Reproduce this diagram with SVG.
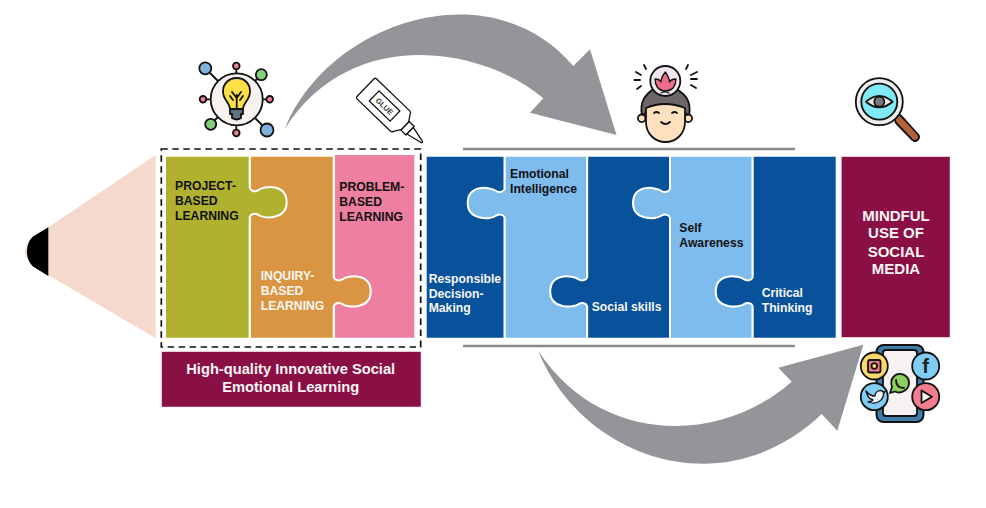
<svg xmlns="http://www.w3.org/2000/svg" width="986" height="508" viewBox="0 0 986 508">
<style>
text{font-family:"Liberation Sans",Arial,sans-serif;font-weight:700}
.t{font-size:12.200px}
.k{fill:#111}
.w{fill:#f8f6f4}
.pc{stroke:#fff;stroke-width:2}
.dk{fill:#07529b}
.lt{fill:#7fbcee}
.ln{stroke:#8c8a8a;stroke-width:2.400;fill:none}
.ic{stroke:#111;stroke-width:1.800;stroke-linecap:round;stroke-linejoin:round}
.thin{stroke-width:1.300}
.no{fill:none}
.mar{fill:#8a0f45;stroke:#f3e4ea;stroke-width:.5}
</style>
<rect width="986" height="508" fill="#fff"/>
<g id="connectors">
<path fill="#939598" d="M285 128.500C328 22 490 -32 573.300 66L590 49.300L616.500 135L530 112.700L543.300 98.300C480 45 350 26 285 128.500Z"/>
<path fill="#939598" d="M538.300 351C580 455 720 510 821.700 414L837.300 430.700L863.300 344.700L778.300 367.700L791.700 381.700C720 445 600 445 538.300 351Z"/>
<path class="ln" d="M463 149H795M463 346H795"/>
</g>
<g id="pencil-tip">
<path fill="#f4d9cc" d="M155.700 155V338.300L43 272Q25 262 25 251.700Q25 241 43 231Z"/>
<path fill="#000" d="M48.300 227.300V276L33 266.500Q27 261 27 251.500Q27 242 33 236.500Z"/>
</g>
<g id="inquiry-frame">
<rect x="161.300" y="149" width="259.400" height="198" fill="none" stroke="#111" stroke-width="1.700" stroke-dasharray="6.500 4.500"/>
</g>
<g id="problem-based">
<path class="pc" fill="#ee7fa0" d="M333.700 154H415.300V338.700H333.700Z"/>
<text class="t k"><tspan x="339.300" y="191">PROBLEM-</tspan><tspan x="339.300" y="206">BASED</tspan><tspan x="339.300" y="221">LEARNING</tspan></text>
</g>
<g id="inquiry-based">
<path class="pc" fill="#d99541" d="M249.700 155.700H333.700V277.200c1,3 5,4 8,2.500c7,-5 29,-7 29,12c0,17 -23,17 -29,12c-3,-1.500 -7,-.5 -8,2.500V338.700H249.700Z"/>
<text class="t w"><tspan x="260.700" y="280">INQUIRY-</tspan><tspan x="260.700" y="295">BASED</tspan><tspan x="260.700" y="309.700">LEARNING</tspan></text>
</g>
<g id="project-based">
<path class="pc" fill="#b0b22f" d="M165 155.700H249.700V188c1,3 5,4 8,2.500c7,-5 29,-7 29,12c0,17 -23,17 -29,12c-3,-1.500 -7,-.5 -8,2.500V338.700H165Z"/>
<text class="t k"><tspan x="175" y="190">PROJECT-</tspan><tspan x="175" y="205">BASED</tspan><tspan x="175" y="219.700">LEARNING</tspan></text>
</g>
<g id="hq-label">
<rect class="mar" x="161.700" y="351.700" width="259.300" height="55.300"/>
<text font-size="14.700" fill="#f8f6f4" text-anchor="middle"><tspan x="290.700" y="373.700">High-quality Innovative Social</tspan><tspan x="290.700" y="391.700">Emotional Learning</tspan></text>
</g>
<g id="responsible">
<path class="pc dk" d="M425.700 155.700H504.700V338.700H425.700Z"/>
<text class="t w"><tspan x="428.700" y="282.700">Responsible</tspan><tspan x="428.700" y="297.700">Decision-</tspan><tspan x="428.700" y="312">Making</tspan></text>
</g>
<g id="emotional">
<path class="pc lt" d="M504.700 155.700V188.800c-1,3 -5,4 -8,2.500c-7,-5 -29,-7 -29,12c0,17 23,17 29,12c3,-1.500 7,-.5 8,2.500V338.700H587.200V155.700Z"/>
<text class="t k"><tspan x="510" y="177.700">Emotional</tspan><tspan x="510" y="192.700">Intelligence</tspan></text>
</g>
<g id="social-skills">
<path class="pc dk" d="M587.200 155.700V277.200c-1,3 -5,4 -8,2.500c-7,-5 -29,-7 -29,12c0,17 23,17 29,12c3,-1.500 7,-.5 8,2.500V338.700H670V155.700Z"/>
<text class="t w" x="591.700" y="311">Social skills</text>
</g>
<g id="self-awareness">
<path class="pc lt" d="M670 155.700V188.800c-1,3 -5,4 -8,2.500c-7,-5 -29,-7 -29,12c0,17 23,17 29,12c3,-1.500 7,-.5 8,2.500V338.700H752.700V155.700Z"/>
<text class="t k"><tspan x="679.300" y="232.300">Self</tspan><tspan x="679.300" y="247">Awareness</tspan></text>
</g>
<g id="critical-thinking">
<path class="pc dk" d="M752.700 155.700V277.200c-1,3 -5,4 -8,2.500c-7,-5 -29,-7 -29,12c0,17 23,17 29,12c3,-1.500 7,-.5 8,2.500V338.700H836.700V155.700Z"/>
<text class="t w"><tspan x="761.700" y="297">Critical</tspan><tspan x="761.700" y="312">Thinking</tspan></text>
</g>
<g id="mindful">
<rect class="mar" x="841.300" y="156.700" width="108.700" height="180.600"/>
<text font-size="15" fill="#f8f6f4" text-anchor="middle"><tspan x="896" y="220.700">MINDFUL</tspan><tspan x="896" y="238.300">USE OF</tspan><tspan x="896" y="256.700">SOCIAL</tspan><tspan x="896" y="274.300">MEDIA</tspan></text>
</g>
<g id="icon-bulb" class="ic">
<path class="no" d="M236.300 69V73M236.300 126V130M206.500 99.300H210.500M262 99.300H266.300M210 73L218 81M255 81L258 78M215 120L218 117M255 118L263 126"/>
<circle cx="236.700" cy="99.300" r="26" fill="#f7f2ee"/>
<circle cx="205.300" cy="68.300" r="6" fill="#7fb1dc"/>
<circle cx="236.300" cy="66" r="3.300" fill="#ef7f90"/>
<circle cx="261.300" cy="74.700" r="5.500" fill="#84cf7c"/>
<circle cx="203" cy="99.300" r="3.300" fill="#ef7f90"/>
<circle cx="269.700" cy="99.300" r="3.300" fill="#ef7f90"/>
<circle cx="210.700" cy="124.300" r="5.500" fill="#84cf7c"/>
<circle cx="236.300" cy="133" r="3.300" fill="#ef7f90"/>
<circle cx="267" cy="130" r="6.500" fill="#7fb1dc"/>
<path fill="#fde047" d="M230 109C230 103 223 100 223 91.500C223 83.500 229 78 236.700 78C244.500 78 250 83.500 250 91.500C250 100 243 103 243 109Z"/>
<path fill="#5c7484" d="M230 109H243V114H241V118Q236.700 121 232 118V114H230Z"/>
<path class="no" d="M236.700 108V95M232 92L236.700 98L241 92M230 96L233 100M243 96L240 100"/>
</g>
<g id="icon-glue" transform="translate(383.500 105) rotate(44)" class="ic thin">
<path fill="#fff" d="M-23 -14H23Q25 -14 25.500 -12L30 -5V5L25.500 12Q25 14 23 14H-23Q-25 14 -25 12V-12Q-25 -14 -23 -14Z"/>
<path fill="#fff" d="M30 -6H37V6H30Z"/>
<path fill="#fff" d="M37 -4.500L53 -1Q55 0 53 1L37 4.500Z"/>
<rect x="-13" y="-7" width="29" height="14" fill="#fff"/>
<text x="1.500" y="3" font-size="7.500" fill="#333" stroke="none" text-anchor="middle">GLUE</text>
</g>
<g id="icon-head" class="ic">
<path class="no" d="M636 72L641 75M634.500 80H640M637 89L641 86M644 65L646 69M697 72L691 75M697 79H691M696 88L691 85M688 65L686 69"/>
<path fill="#6b6669" d="M642 116C639 100 647 94 652 90H678C684 94 692 100 689 116L684 112H647Z"/>
<circle cx="641.700" cy="118.300" r="3.800" fill="#fde0bd"/>
<circle cx="688.300" cy="118.300" r="3.800" fill="#fde0bd"/>
<path fill="#fde0bd" d="M646 108Q665 100 685 108V122C685 134 676 142 665.500 142C655 142 646 134 646 122Z"/>
<path class="no" d="M654 113Q656.500 111 659 113M672 113Q674.500 111 677 113M661 122Q665.500 126 670 122"/>
<circle cx="665.300" cy="81" r="15" fill="#efe6ef"/>
<path fill="#ee6a8a" class="thin" d="M665.300 91C658 91 655 85 655 79C658 79 660 80 661 82C661 78 663 75 665.300 72C667.500 75 669.500 78 669.500 82C670.500 80 673 79 676 79C676 85 673 91 665.300 91Z"/>
<path class="no thin" d="M661 93L669 90M669 93L661 90"/>
</g>
<g id="icon-magnifier" class="ic">
<path fill="#b5623a" d="M899 114L905 120L918.500 135Q920 138 917.500 140Q915 142 912.500 140L896 123L894 117Z"/>
<circle cx="879.300" cy="101.700" r="23.500" fill="#eee"/>
<circle cx="879.300" cy="101.700" r="18" fill="#7fe9f5"/>
<path fill="#e8e6e6" d="M866 101.700Q879.300 90 892.600 101.700Q879.300 113 866 101.700Z"/>
<circle cx="879.300" cy="101.700" r="5" fill="#77787a"/>
</g>
<g id="icon-social" class="ic">
<rect x="876.500" y="345" width="47" height="77" rx="7" fill="#3f7ea8" stroke-width="2"/>
<rect x="883" y="350" width="34" height="66" rx="3" fill="#f6f2f3"/>
<circle cx="874.300" cy="366" r="13.500" fill="#fbd86b"/>
<rect x="868" y="360" width="12.500" height="12.500" rx="2" fill="#ef7f90"/>
<circle cx="874.300" cy="366" r="2.800" fill="#fbd86b"/>
<circle cx="925.700" cy="366" r="13.500" fill="#7fcdf5"/>
<text x="925.700" y="373" font-size="20" fill="#222" stroke="none" text-anchor="middle">f</text>
<circle cx="874.300" cy="396.700" r="13.500" fill="#7fcdf5"/>
<path fill="#f6f2f3" class="thin" d="M866 391C869 395 872 396 875 396C875 391 881 389 883 392L885 391.500L883.500 394C883 401 876 405 868 402C871 402 872 401 873 400C869 399 867 395 866 391Z"/>
<circle cx="925.700" cy="396.700" r="13.500" fill="#f27d8f"/>
<path fill="#f6f2f3" d="M921.500 390.500L932 396.700L921.500 403Z"/>
<path fill="#8fd05a" d="M890 393L892 387C889 378 896 373.500 900 373.800C905 374 909.500 378 909 383.500C908.500 390 901 394.500 895 391.500Z"/>
<path class="no" d="M896 380C896 385 899 388 904 388"/>
</g>
</svg>
